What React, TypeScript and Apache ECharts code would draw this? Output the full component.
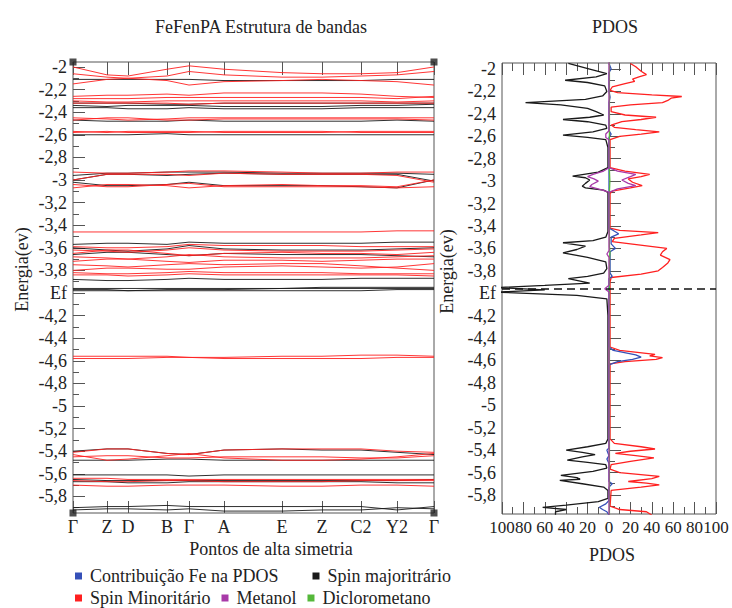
import React, { useEffect, useRef } from 'react';
import * as echarts from 'echarts';

// High-symmetry path
const kPos = [0, 34, 55, 94, 116, 151, 209, 249, 288, 324, 361];
const kLabels = ['Γ', 'Z', 'D', 'B', 'Γ', 'A', 'E', 'Z', 'C2', 'Y2', 'Γ'];

// Energy tick labels (eV)
const energyTicks = [-2, -2.2, -2.4, -2.6, -2.8, -3, -3.2, -3.4, -3.6, -3.8, -4, -4.2, -4.4, -4.6, -4.8, -5, -5.2, -5.4, -5.6, -5.8];
const energyMinorTicks = [-2.1, -2.3, -2.5, -2.7, -2.9, -3.1, -3.3, -3.5, -3.7, -3.9, -4.1, -4.3, -4.5, -4.7, -4.9, -5.1, -5.3, -5.5, -5.7, -5.9];
const pdosTicks = [-100, -80, -60, -40, -20, 0, 20, 40, 60, 80, 100];
const fermiLevel = -3.96;

// Minority-spin (red) bands, energy at each high-symmetry point
const minorityBands = [
  [-2.00, -2.07, -2.08, -2.02, -1.99, -2.02, -2.05, -2.06, -2.06, -2.05, -2.00],
  [-2.06, -2.09, -2.10, -2.08, -2.04, -2.07, -2.09, -2.09, -2.08, -2.07, -2.04],
  [-2.15, -2.11, -2.10, -2.12, -2.16, -2.13, -2.12, -2.11, -2.12, -2.13, -2.16],
  [-2.26, -2.25, -2.25, -2.24, -2.25, -2.23, -2.23, -2.23, -2.24, -2.26, -2.27],
  [-2.28, -2.28, -2.28, -2.27, -2.27, -2.27, -2.27, -2.27, -2.27, -2.28, -2.26],
  [-2.30, -2.31, -2.31, -2.30, -2.30, -2.30, -2.30, -2.30, -2.30, -2.31, -2.30],
  [-2.32, -2.32, -2.32, -2.32, -2.33, -2.32, -2.32, -2.32, -2.32, -2.32, -2.32],
  [-2.45, -2.46, -2.47, -2.46, -2.45, -2.45, -2.45, -2.45, -2.45, -2.45, -2.45],
  [-2.47, -2.45, -2.45, -2.47, -2.47, -2.46, -2.46, -2.46, -2.46, -2.46, -2.47],
  [-2.57, -2.58, -2.57, -2.57, -2.57, -2.58, -2.58, -2.58, -2.57, -2.57, -2.57],
  [-2.58, -2.57, -2.58, -2.58, -2.58, -2.57, -2.57, -2.57, -2.58, -2.58, -2.58],
  [-2.93, -2.94, -2.94, -2.93, -2.92, -2.92, -2.93, -2.94, -2.94, -2.93, -2.93],
  [-3.00, -2.95, -2.95, -2.95, -2.96, -2.94, -2.95, -2.95, -2.95, -2.96, -3.02],
  [-3.07, -3.04, -3.04, -3.05, -3.07, -3.05, -3.04, -3.05, -3.05, -3.06, -3.00],
  [-3.04, -3.06, -3.06, -3.04, -3.03, -3.06, -3.06, -3.06, -3.06, -3.07, -3.06],
  [-3.46, -3.46, -3.46, -3.46, -3.46, -3.46, -3.46, -3.46, -3.46, -3.45, -3.45],
  [-3.59, -3.60, -3.60, -3.59, -3.57, -3.58, -3.58, -3.58, -3.59, -3.59, -3.59],
  [-3.62, -3.63, -3.64, -3.62, -3.60, -3.62, -3.63, -3.63, -3.63, -3.62, -3.61],
  [-3.65, -3.62, -3.62, -3.65, -3.67, -3.65, -3.64, -3.65, -3.65, -3.66, -3.64],
  [-3.68, -3.69, -3.70, -3.68, -3.66, -3.68, -3.69, -3.69, -3.69, -3.68, -3.67],
  [-3.72, -3.70, -3.70, -3.72, -3.73, -3.71, -3.71, -3.72, -3.71, -3.70, -3.70],
  [-3.75, -3.76, -3.77, -3.75, -3.74, -3.75, -3.74, -3.74, -3.76, -3.78, -3.80],
  [-3.80, -3.78, -3.78, -3.79, -3.79, -3.77, -3.76, -3.77, -3.78, -3.77, -3.74],
  [-3.82, -3.83, -3.83, -3.82, -3.81, -3.82, -3.82, -3.82, -3.83, -3.83, -3.83],
  [-3.84, -3.84, -3.85, -3.84, -3.83, -3.84, -3.84, -3.84, -3.84, -3.84, -3.85],
  [-4.56, -4.56, -4.56, -4.56, -4.57, -4.57, -4.56, -4.56, -4.55, -4.55, -4.56],
  [-4.58, -4.58, -4.58, -4.57, -4.57, -4.58, -4.58, -4.58, -4.58, -4.57, -4.57],
  [-5.41, -5.38, -5.38, -5.42, -5.43, -5.39, -5.38, -5.38, -5.38, -5.40, -5.41],
  [-5.43, -5.48, -5.47, -5.44, -5.42, -5.46, -5.48, -5.48, -5.47, -5.45, -5.42],
  [-5.45, -5.44, -5.44, -5.46, -5.46, -5.45, -5.45, -5.45, -5.46, -5.46, -5.44],
  [-5.64, -5.64, -5.65, -5.65, -5.65, -5.65, -5.65, -5.65, -5.65, -5.65, -5.65],
  [-5.66, -5.67, -5.67, -5.66, -5.66, -5.67, -5.67, -5.67, -5.66, -5.66, -5.66],
  [-5.70, -5.71, -5.71, -5.70, -5.70, -5.70, -5.71, -5.71, -5.70, -5.70, -5.71],
];

// Majority-spin (black) bands
const majorityBands = [
  [-2.11, -2.11, -2.11, -2.11, -2.11, -2.12, -2.12, -2.12, -2.12, -2.11, -2.11],
  [-2.32, -2.32, -2.32, -2.33, -2.33, -2.32, -2.32, -2.32, -2.32, -2.32, -2.32],
  [-2.34, -2.35, -2.34, -2.34, -2.34, -2.35, -2.35, -2.35, -2.34, -2.34, -2.33],
  [-2.36, -2.36, -2.37, -2.37, -2.36, -2.37, -2.37, -2.37, -2.36, -2.36, -2.36],
  [-2.47, -2.48, -2.48, -2.48, -2.47, -2.48, -2.48, -2.48, -2.48, -2.47, -2.48],
  [-2.60, -2.60, -2.60, -2.59, -2.60, -2.60, -2.60, -2.60, -2.60, -2.60, -2.60],
  [-3.00, -2.95, -2.95, -2.96, -2.95, -2.94, -2.95, -2.95, -2.95, -2.95, -3.01],
  [-3.02, -3.05, -3.05, -3.04, -3.02, -3.05, -3.05, -3.05, -3.06, -3.07, -3.00],
  [-2.96, -2.94, -2.94, -2.93, -2.93, -2.93, -2.94, -2.94, -2.94, -2.94, -2.95],
  [-3.57, -3.56, -3.56, -3.57, -3.55, -3.56, -3.56, -3.56, -3.56, -3.55, -3.55],
  [-3.60, -3.62, -3.63, -3.61, -3.58, -3.61, -3.62, -3.62, -3.62, -3.61, -3.60],
  [-3.66, -3.64, -3.64, -3.66, -3.67, -3.65, -3.66, -3.66, -3.66, -3.67, -3.68],
  [-3.88, -3.89, -3.89, -3.88, -3.87, -3.88, -3.88, -3.88, -3.87, -3.87, -3.87],
  [-3.96, -3.96, -3.96, -3.96, -3.96, -3.96, -3.96, -3.95, -3.95, -3.95, -3.95],
  [-3.97, -3.97, -3.98, -3.97, -3.97, -3.97, -3.96, -3.96, -3.96, -3.96, -3.96],
  [-3.98, -3.98, -3.98, -3.98, -3.98, -3.98, -3.98, -3.98, -3.98, -3.97, -3.97],
  [-5.40, -5.38, -5.38, -5.42, -5.43, -5.39, -5.38, -5.39, -5.39, -5.41, -5.43],
  [-5.48, -5.48, -5.48, -5.47, -5.47, -5.48, -5.48, -5.48, -5.48, -5.48, -5.48],
  [-5.61, -5.61, -5.61, -5.61, -5.62, -5.61, -5.61, -5.61, -5.61, -5.61, -5.61],
  [-5.65, -5.66, -5.66, -5.66, -5.66, -5.66, -5.66, -5.66, -5.66, -5.66, -5.65],
  [-5.67, -5.67, -5.68, -5.68, -5.67, -5.67, -5.67, -5.67, -5.67, -5.68, -5.68],
  [-5.90, -5.89, -5.89, -5.88, -5.89, -5.89, -5.89, -5.89, -5.89, -5.92, -5.89],
  [-5.92, -5.91, -5.91, -5.92, -5.91, -5.93, -5.93, -5.92, -5.92, -5.90, -5.91],
];

// PDOS curves: [energy, dos]
const pdosMajority = [
  [-1.95, -38], [-2.00, -18], [-2.04, -2], [-2.07, -12], [-2.10, -41], [-2.12, -20], [-2.15, -4], [-2.20, -2],
  [-2.24, -6], [-2.27, -22], [-2.30, -78], [-2.32, -45], [-2.35, -20], [-2.38, -12], [-2.41, -5], [-2.43, -18],
  [-2.45, -43], [-2.47, -20], [-2.50, -3], [-2.53, -2], [-2.56, -15], [-2.59, -43], [-2.61, -20], [-2.63, -3],
  [-2.70, -1], [-2.88, -1], [-2.92, -10], [-2.955, -34], [-2.97, -22], [-2.99, -18], [-3.02, -22], [-3.045, -25],
  [-3.06, -22], [-3.08, -5], [-3.10, -1], [-3.45, -1], [-3.50, -3], [-3.53, -15], [-3.55, -43], [-3.58, -22],
  [-3.61, -30], [-3.64, -43], [-3.68, -20], [-3.72, -3], [-3.78, -2], [-3.82, -5], [-3.85, -20], [-3.87, -38],
  [-3.89, -28], [-3.91, -18], [-3.93, -60], [-3.95, -105], [-3.97, -60], [-3.99, -105], [-4.02, -30], [-4.05, -2],
  [-4.20, -1], [-5.30, -1], [-5.34, -3], [-5.37, -20], [-5.40, -40], [-5.42, -25], [-5.44, -13], [-5.46, -25],
  [-5.49, -39], [-5.51, -20], [-5.53, -3], [-5.56, -2], [-5.59, -15], [-5.625, -45], [-5.645, -30], [-5.66, -27],
  [-5.67, -46], [-5.70, -25], [-5.73, -5], [-5.76, -1], [-5.83, -1], [-5.86, -10], [-5.89, -40], [-5.91, -62],
  [-5.93, -40], [-5.95, -50], [-5.98, -50],
];
const pdosMinority = [
  [-1.95, 20], [-1.98, 25], [-2.02, 30], [-2.05, 35], [-2.07, 28], [-2.09, 22], [-2.11, 24], [-2.13, 15],
  [-2.16, 3], [-2.19, 1], [-2.21, 8], [-2.23, 40], [-2.245, 68], [-2.26, 58], [-2.28, 55], [-2.30, 50],
  [-2.32, 20], [-2.34, 2], [-2.38, 2], [-2.41, 15], [-2.43, 44], [-2.45, 30], [-2.47, 12], [-2.50, 2],
  [-2.52, 5], [-2.54, 25], [-2.56, 47], [-2.58, 30], [-2.60, 10], [-2.63, 1], [-2.88, 1], [-2.91, 15],
  [-2.94, 38], [-2.96, 30], [-2.98, 18], [-3.01, 22], [-3.04, 31], [-3.06, 20], [-3.09, 3], [-3.11, 1],
  [-3.42, 1], [-3.44, 10], [-3.46, 46], [-3.48, 30], [-3.51, 5], [-3.54, 3], [-3.56, 20], [-3.60, 54],
  [-3.63, 50], [-3.66, 48], [-3.70, 57], [-3.73, 55], [-3.77, 50], [-3.80, 46], [-3.83, 30], [-3.86, 2],
  [-3.90, 1], [-4.48, 1], [-4.51, 10], [-4.545, 43], [-4.56, 38], [-4.575, 50], [-4.59, 44], [-4.61, 15],
  [-4.63, 1], [-5.30, 1], [-5.34, 5], [-5.37, 30], [-5.39, 43], [-5.41, 20], [-5.43, 6], [-5.45, 25],
  [-5.47, 42], [-5.50, 20], [-5.53, 2], [-5.57, 1], [-5.60, 10], [-5.635, 47], [-5.655, 40], [-5.68, 18],
  [-5.695, 35], [-5.71, 47], [-5.73, 30], [-5.76, 2], [-5.90, 1], [-5.93, 10], [-5.95, 35], [-5.98, 40],
];
const pdosFe = [
  [-1.95, 0], [-2.00, 2], [-2.03, 0], [-2.20, 0], [-2.25, 1], [-2.30, 0], [-2.55, 0], [-2.58, 2], [-2.61, 0],
  [-3.42, 0], [-3.44, 4], [-3.47, 9], [-3.50, 2], [-3.56, 2], [-3.60, 6], [-3.63, 1], [-3.82, 1], [-3.85, 3],
  [-3.87, 0], [-4.48, 0], [-4.51, 4], [-4.55, 25], [-4.57, 30], [-4.59, 22], [-4.61, 8], [-4.64, 0],
  [-5.38, 0], [-5.40, -2], [-5.45, 0], [-5.48, -2], [-5.52, 0], [-5.68, 0], [-5.70, 3], [-5.73, 0],
  [-5.85, 0], [-5.88, -3], [-5.91, -9], [-5.93, -6], [-5.95, -2], [-5.98, 0],
];
const pdosMetanolDown = [
  [-1.90, 0], [-2.55, 0], [-2.58, -3], [-2.61, -3], [-2.63, 0], [-2.88, 0], [-2.91, -5], [-2.94, -15],
  [-2.96, -20], [-2.98, -14], [-3.00, -10], [-3.03, -16], [-3.05, -18], [-3.08, -6], [-3.10, 0], [-3.62, 0],
  [-3.65, -2], [-3.68, 0], [-3.93, 0], [-3.96, -4], [-3.99, 0], [-6.00, 0],
];
const pdosMetanolUp = [
  [-2.88, 0], [-2.91, 8], [-2.94, 25], [-2.96, 20], [-2.99, 12], [-3.02, 18], [-3.04, 25], [-3.07, 8], [-3.10, 0],
];
const pdosDiclorometano = [
  [-1.90, 0.4], [-2.90, 0.4], [-3.00, 0.8], [-3.10, 0.4], [-3.58, 0.4], [-3.64, 0.9], [-3.70, 0.4], [-6.00, 0.4],
];

const FONT = 'Liberation Serif, DejaVu Serif, serif';
const FS = 18;
const TXT = '#222';
const RED = '#ff2020';
const BLACK = '#1a1a1a';
const BLUE = '#3550b8';
const MAGENTA = '#a83aa8';
const GREEN = '#55b83a';

const fmtEnergy = (v: number) => (Math.abs(v + 4) < 1e-6 ? 'Ef' : String(+v.toFixed(1)).replace('.', ','));

function energyAxes(gridIndex: number, min: number, max: number, nameGap: number, namePad: number) {
  return [
    {
      type: 'value', gridIndex, min, max, position: 'left',
      axisLine: { show: false }, splitLine: { show: false },
      axisTick: { show: true, inside: true, length: 12, customValues: energyTicks, lineStyle: { color: '#555' } },
      axisLabel: { show: true, customValues: energyTicks, formatter: fmtEnergy, fontSize: FS, fontFamily: FONT, color: TXT, margin: 6 },
      name: 'Energia(ev)', nameLocation: 'middle', nameGap, nameRotate: 90, nameMoveOverlap: false,
      nameTextStyle: { fontSize: FS, fontFamily: FONT, color: TXT, padding: [0, 0, 0, namePad] },
    },
    {
      type: 'value', gridIndex, min, max, position: 'left',
      axisLine: { show: false }, splitLine: { show: false },
      axisTick: { show: true, inside: true, length: 6, customValues: energyMinorTicks, lineStyle: { color: '#555' } },
      axisLabel: { show: false },
    },
  ];
}

const bandSeries = (bands: number[][], name: string, color: string) =>
  bands.map((b) => ({
    type: 'line', name, xAxisIndex: 0, yAxisIndex: 0, silent: true, symbol: 'none', showSymbol: false,
    data: kPos.map((x, i) => [x, b[i]]),
    lineStyle: { color, width: 1, opacity: 0.9 }, itemStyle: { color },
  }));

const pdosSeries = (arr: number[][], name: string, color: string, extra: any = {}) => ({
  type: 'line', name, xAxisIndex: 2, yAxisIndex: 2, silent: true, symbol: 'none', showSymbol: false,
  data: arr.map(([e, v]) => [v, e]),
  lineStyle: { color, width: 1.3 }, itemStyle: { color }, ...extra,
});

const legendText = { fontSize: FS, fontFamily: FONT, color: TXT, padding: [0, 0, 0, 3] };

const option: any = {
  animation: false,
  backgroundColor: '#fff',
  textStyle: { fontFamily: FONT },
  title: [
    { text: 'FeFenPA Estrutura de bandas', left: 256, top: 13, textAlign: 'center', textStyle: { fontSize: FS, fontWeight: 'normal', fontFamily: FONT, color: TXT } },
    { text: 'PDOS', left: 610, top: 13, textAlign: 'center', textStyle: { fontSize: FS, fontWeight: 'normal', fontFamily: FONT, color: TXT } },
  ],
  legend: [
    {
      left: 75, top: 567, padding: 0, icon: 'rect', itemWidth: 7, itemHeight: 7, itemGap: 34,
      data: ['Contribuição Fe na PDOS', 'Spin majoritrário'], textStyle: legendText, selectedMode: false,
    },
    {
      left: 75, top: 589, padding: 0, icon: 'rect', itemWidth: 7, itemHeight: 7, itemGap: 11,
      data: ['Spin Minoritário', 'Metanol', 'Diclorometano'], textStyle: legendText, selectedMode: false,
    },
  ],
  grid: [
    { left: 73, top: 62, width: 361, height: 451, show: true, borderColor: '#555', borderWidth: 1, backgroundColor: 'transparent', outerBoundsMode: 'none' },
    { left: 502, top: 63, width: 214, height: 451, show: true, borderColor: '#555', borderWidth: 1, backgroundColor: 'transparent', outerBoundsMode: 'none' },
  ],
  xAxis: [
    {
      type: 'value', gridIndex: 0, min: 0, max: kPos[kPos.length - 1], position: 'bottom',
      axisLine: { show: false }, splitLine: { show: false },
      axisTick: { show: true, inside: true, length: 12, customValues: kPos, lineStyle: { color: '#555' } },
      axisLabel: { show: true, customValues: kPos, formatter: (v: number) => kLabels[kPos.indexOf(v)], fontSize: FS, fontFamily: FONT, color: TXT, margin: 5 },
      name: 'Pontos de alta simetria', nameLocation: 'middle', nameGap: 27, nameMoveOverlap: false,
      nameTextStyle: { fontSize: FS, fontFamily: FONT, color: TXT, padding: [0, 0, 0, 35] },
    },
    {
      type: 'value', gridIndex: 0, min: 0, max: kPos[kPos.length - 1], position: 'top',
      axisLine: { show: false }, splitLine: { show: false },
      axisTick: { show: true, inside: true, length: 13, customValues: kPos, lineStyle: { color: '#555' } },
      axisLabel: { show: false },
    },
    {
      type: 'value', gridIndex: 1, min: -100, max: 100, interval: 20, position: 'bottom',
      axisLine: { show: false }, splitLine: { show: false },
      axisTick: { show: true, inside: true, length: 12, lineStyle: { color: '#555' } },
      minorTick: { show: true, splitNumber: 2, length: 7, lineStyle: { color: '#555' } },
      axisLabel: {
        show: true, customValues: pdosTicks, hideOverlap: false, formatter: (v: number) => String(Math.abs(v)),
        fontSize: 17, fontFamily: FONT, color: TXT, margin: 5, showMinLabel: true, showMaxLabel: true,
      },
      name: 'PDOS', nameLocation: 'middle', nameGap: 32, nameMoveOverlap: false,
      nameTextStyle: { fontSize: FS, fontFamily: FONT, color: TXT, padding: [0, 0, 0, 6] },
    },
    {
      type: 'value', gridIndex: 1, min: -100, max: 100, interval: 20, position: 'top',
      axisLine: { show: false }, splitLine: { show: false },
      axisTick: { show: true, inside: true, length: 12, lineStyle: { color: '#555' } },
      minorTick: { show: true, splitNumber: 2, length: 8, lineStyle: { color: '#555' } },
      axisLabel: { show: false },
    },
  ],
  yAxis: [
    ...energyAxes(0, -5.947, -1.956, 42, 36),
    ...energyAxes(1, -5.97, -1.946, 46, 34),
  ],
  series: [
    ...bandSeries(majorityBands, 'Spin majoritrário', BLACK),
    ...bandSeries(minorityBands, 'Spin Minoritário', RED),
    {
      type: 'scatter', name: 'corners', xAxisIndex: 0, yAxisIndex: 0, silent: true, symbol: 'rect', symbolSize: 7,
      data: [[0, -1.956], [kPos[kPos.length - 1], -1.956], [0, -5.947], [kPos[kPos.length - 1], -5.947]],
      itemStyle: { color: '#222' }, clip: false,
    },
    pdosSeries(pdosMajority, 'Spin majoritrário', BLACK, {
      markLine: {
        silent: true, symbol: 'none', label: { show: false },
        lineStyle: { color: '#111', type: [8, 5], width: 1.5 },
        data: [{ yAxis: fermiLevel }],
      },
    }),
    pdosSeries(pdosMinority, 'Spin Minoritário', RED),
    pdosSeries(pdosFe, 'Contribuição Fe na PDOS', BLUE),
    pdosSeries(pdosDiclorometano, 'Diclorometano', GREEN),
    pdosSeries(pdosMetanolUp, 'Metanol', MAGENTA),
    pdosSeries(pdosMetanolDown, 'Metanol', MAGENTA),
  ],
};

export default function App() {
  const ref = useRef<HTMLDivElement>(null);
  useEffect(() => {
    if (!ref.current) return;
    const chart = echarts.init(ref.current, null, { renderer: 'svg' });
    chart.setOption(option);
    return () => chart.dispose();
  }, []);
  return <div ref={ref} style={{ position: 'fixed', left: 0, top: 0, width: 732, height: 608, background: '#fff' }} />;
}
